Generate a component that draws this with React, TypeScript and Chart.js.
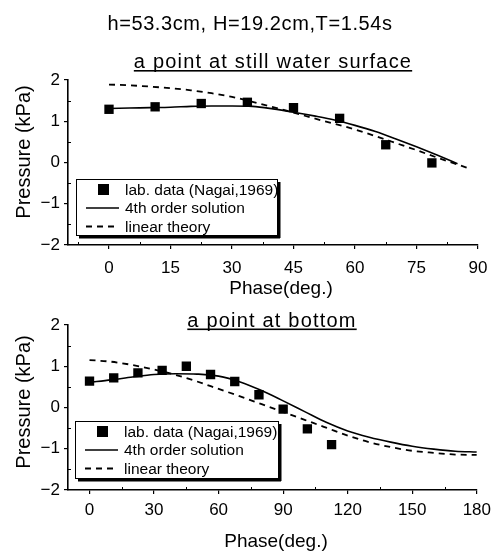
import React, { useEffect, useRef } from "react";
import { Chart, registerables } from "chart.js";

Chart.register(...registerables);

// ---------- texts ----------
const mainTitle = "h=53.3cm, H=19.2cm,T=1.54s";
const surfaceTitle = "a point at still water surface";
const bottomTitle = "a point at bottom";
const yAxisTitle = "Pressure (kPa)";
const xAxisTitle = "Phase(deg.)";
const legendLabels = ["lab. data (Nagai,1969)", "4th order solution", "linear theory"];

// ---------- ticks ----------
const surfaceXTicks = [0, 15, 30, 45, 60, 75, 90];
const surfaceXMinor = [-7.5, 7.5, 22.5, 37.5, 52.5, 67.5, 82.5];
const bottomXTicks = [0, 30, 60, 90, 120, 150, 180];
const bottomXMinor = [15, 45, 75, 105, 135, 165];
const yTicks = [-2, -1, 0, 1, 2];
const yMinor = [-1.5, -0.5, 0.5, 1.5];

// ---------- data: point at still water surface ----------
const surfaceLabPhase = [0, 11.25, 22.5, 33.75, 45, 56.25, 67.5, 78.75];
const surfaceLabPressure = [1.29, 1.35, 1.43, 1.46, 1.33, 1.07, 0.43, -0.01];

const surface4thPhase = [0, 5, 10, 15, 20, 25, 30, 35, 40, 45, 50, 55, 60, 65, 70, 75, 80, 85];
const surface4thPressure = [1.31, 1.32, 1.33, 1.34, 1.36, 1.37, 1.37, 1.36, 1.3, 1.22, 1.13, 1.03, 0.9, 0.75, 0.57, 0.38, 0.18, -0.03];

const surfaceLinearPhase = [0, 5, 10, 15, 20, 25, 30, 35, 40, 45, 50, 55, 60, 65, 70, 75, 80, 85, 88];
const surfaceLinearPressure = [1.89, 1.87, 1.84, 1.8, 1.75, 1.68, 1.59, 1.47, 1.34, 1.21, 1.07, 0.94, 0.8, 0.64, 0.47, 0.3, 0.12, -0.05, -0.15];

// ---------- data: point at bottom ----------
const bottomLabPhase = [0, 11.25, 22.5, 33.75, 45, 56.25, 67.5, 78.75, 90, 101.25, 112.5];
const bottomLabPressure = [0.64, 0.72, 0.84, 0.9, 1.0, 0.8, 0.63, 0.31, -0.04, -0.52, -0.9];

const bottomCurvePhase = [0, 10, 20, 30, 40, 50, 60, 70, 80, 90, 100, 110, 120, 130, 140, 150, 160, 170, 180];
const bottom4thPressure = [0.61, 0.67, 0.74, 0.8, 0.82, 0.81, 0.76, 0.62, 0.41, 0.16, -0.1, -0.36, -0.57, -0.72, -0.84, -0.94, -1.01, -1.06, -1.08];
const bottomLinearPressure = [1.15, 1.11, 1.03, 0.92, 0.79, 0.63, 0.45, 0.27, 0.08, -0.11, -0.3, -0.49, -0.68, -0.84, -0.96, -1.05, -1.1, -1.14, -1.15];

const FONT = "'Liberation Sans', Arial, sans-serif";

const zip = (xs: number[], ys: number[]) => xs.map((x, i) => ({ x, y: ys[i] }));

type TextItem = { text: string; x: number; y: number; size: number; spacing?: number; rotate?: boolean; underline?: boolean };

const decorPlugin = {
  id: "decor",
  afterDraw(chart: any, _args: any, opts: any) {
    const ctx: CanvasRenderingContext2D = chart.ctx;
    const area = chart.chartArea;
    const xs = chart.scales.x;
    const ys = chart.scales.y;
    ctx.save();
    ctx.strokeStyle = "#000";
    ctx.fillStyle = "#000";
    ctx.lineWidth = 1;
    // minor ticks
    (opts.xMinor || []).forEach((v: number) => {
      const px = Math.round(xs.getPixelForValue(v)) + 0.5;
      ctx.beginPath();
      ctx.moveTo(px, area.bottom);
      ctx.lineTo(px, area.bottom - 3);
      ctx.stroke();
    });
    (opts.yMinor || []).forEach((v: number) => {
      const py = Math.round(ys.getPixelForValue(v)) + 0.5;
      ctx.beginPath();
      ctx.moveTo(area.left, py);
      ctx.lineTo(area.left + 3, py);
      ctx.stroke();
    });
    // texts
    (opts.texts || []).forEach((t: TextItem) => {
      ctx.save();
      ctx.font = `${t.size}px ${FONT}`;
      (ctx as any).letterSpacing = `${t.spacing || 0}px`;
      ctx.textAlign = "center";
      ctx.textBaseline = "alphabetic";
      ctx.translate(t.x, t.y);
      if (t.rotate) ctx.rotate(-Math.PI / 2);
      ctx.fillText(t.text, 0, 0);
      if (t.underline) {
        const w = ctx.measureText(t.text).width;
        ctx.fillRect(-w / 2, 2, w, 1.6);
      }
      ctx.restore();
    });
    // legend
    const lg = opts.legend;
    if (lg) {
      const lx = area.left + lg.dx;
      const ly = area.top + lg.dy;
      const w = lg.w;
      const h = lg.h;
      ctx.fillStyle = "#fff";
      ctx.fillRect(lx, ly, w, h);
      ctx.strokeStyle = "#000";
      ctx.lineWidth = 1;
      ctx.strokeRect(lx + 0.5, ly + 0.5, w, h);
      ctx.fillStyle = "#000";
      ctx.fillRect(lx + 3, ly + h, w, 3.5);
      ctx.fillRect(lx + w, ly + 3, 3.5, h);
      const rows = [ly + 10.5, ly + 29, ly + 47.5];
      const datasets = chart.data.datasets;
      ctx.font = `15.5px ${FONT}`;
      ctx.textBaseline = "middle";
      ctx.textAlign = "left";
      datasets.forEach((ds: any, i: number) => {
        const ry = rows[i];
        ctx.fillStyle = "#000";
        ctx.strokeStyle = "#000";
        if (ds.showLine === false) {
          ctx.fillRect(lx + 22, ry - 5.5, 11, 11);
        } else {
          ctx.lineWidth = ds.borderWidth;
          ctx.setLineDash(ds.borderDash || []);
          ctx.beginPath();
          ctx.moveTo(lx + 10, ry);
          ctx.lineTo(lx + 43, ry);
          ctx.stroke();
          ctx.setLineDash([]);
        }
        ctx.fillText(ds.label, lx + 49, ry + 1);
      });
    }
    ctx.restore();
  },
};

type PanelProps = {
  top: number;
  height: number;
  padTop: number;
  xAxisHeight: number;
  xMin: number;
  xMax: number;
  xTicks: number[];
  xMinor: number[];
  xTickPad: number;
  lab: { x: number; y: number }[];
  fourth: { x: number; y: number }[];
  linear: { x: number; y: number }[];
  texts: TextItem[];
  legend: { dx: number; dy: number; w: number; h: number };
};

function Panel(p: PanelProps) {
  const ref = useRef<HTMLCanvasElement | null>(null);
  useEffect(() => {
    if (!ref.current) return;
    Chart.defaults.font.family = FONT;
    Chart.defaults.color = "#000";
    const chart = new Chart(ref.current, {
      type: "scatter",
      data: {
        datasets: [
          {
            label: legendLabels[0],
            data: p.lab,
            showLine: false,
            pointStyle: "rect",
            pointRadius: 6.6,
            backgroundColor: "#000",
            borderColor: "#000",
            borderWidth: 0,
            order: 0,
          },
          {
            label: legendLabels[1],
            data: p.fourth,
            showLine: true,
            pointRadius: 0,
            borderColor: "#000",
            borderWidth: 1.6,
            cubicInterpolationMode: "monotone",
            order: 1,
          },
          {
            label: legendLabels[2],
            data: p.linear,
            showLine: true,
            pointRadius: 0,
            borderColor: "#000",
            borderWidth: 1.8,
            borderDash: [6, 5],
            cubicInterpolationMode: "monotone",
            order: 2,
          },
        ],
      },
      options: {
        animation: false,
        responsive: false,
        events: [],
        layout: { padding: { top: p.padTop, right: 19, left: 0, bottom: 0 } },
        plugins: {
          legend: { display: false },
          tooltip: { enabled: false },
          decor: { xMinor: p.xMinor, yMinor, texts: p.texts, legend: p.legend },
        } as any,
        scales: {
          x: {
            type: "linear",
            min: p.xMin,
            max: p.xMax,
            afterFit: (s: any) => {
              s.height = p.xAxisHeight;
            },
            afterBuildTicks: (s: any) => {
              s.ticks = p.xTicks.map((v) => ({ value: v }));
            },
            ticks: { font: { size: 17 }, color: "#000", padding: p.xTickPad, maxRotation: 0 },
            grid: { display: true, drawOnChartArea: false, drawTicks: true, tickLength: 4, color: "#000", lineWidth: 1.2 },
            border: { display: true, color: "#000", width: 1.6 },
          },
          y: {
            type: "linear",
            min: -2,
            max: 2,
            afterFit: (s: any) => {
              s.width = 68;
            },
            afterBuildTicks: (s: any) => {
              s.ticks = yTicks.map((v) => ({ value: v }));
            },
            ticks: {
              font: { size: 17 },
              color: "#000",
              padding: 4,
              callback: (v: any) => String(v).replace("-", "\u2212"),
            },
            grid: { display: true, drawOnChartArea: false, drawTicks: true, tickLength: 4, color: "#000", lineWidth: 1.2 },
            border: { display: true, color: "#000", width: 1.6 },
          },
        },
      },
      plugins: [decorPlugin],
    } as any);
    return () => chart.destroy();
  }, []);
  return (
    <canvas
      ref={ref}
      width={497}
      height={p.height}
      style={{ position: "absolute", left: 0, top: p.top, width: 497, height: p.height }}
    />
  );
}

export default function App() {
  return (
    <div style={{ position: "absolute", left: 0, top: 0, width: 497, height: 551, background: "#fff" }}>
      <Panel
        top={0}
        height={300}
        padTop={80}
        xAxisHeight={55}
        xMin={-10}
        xMax={90}
        xTicks={surfaceXTicks}
        xMinor={surfaceXMinor}
        xTickPad={9}
        lab={zip(surfaceLabPhase, surfaceLabPressure)}
        fourth={zip(surface4thPhase, surface4thPressure)}
        linear={zip(surfaceLinearPhase, surfaceLinearPressure)}
        texts={[
          { text: mainTitle, x: 250, y: 30, size: 20, spacing: 0.6 },
          { text: surfaceTitle, x: 273, y: 68, size: 20, spacing: 1.2, underline: true },
          { text: yAxisTitle, x: 30, y: 152, size: 20, rotate: true },
          { text: xAxisTitle, x: 281, y: 294, size: 19 },
        ]}
        legend={{ dx: 8, dy: 99, w: 201, h: 56 }}
      />
      <Panel
        top={300}
        height={251}
        padTop={25}
        xAxisHeight={61}
        xMin={-10}
        xMax={180}
        xTicks={bottomXTicks}
        xMinor={bottomXMinor}
        xTickPad={6}
        lab={zip(bottomLabPhase, bottomLabPressure)}
        fourth={zip(bottomCurvePhase, bottom4thPressure)}
        linear={zip(bottomCurvePhase, bottomLinearPressure)}
        texts={[
          { text: bottomTitle, x: 272, y: 26.5, size: 20, spacing: 1.2, underline: true },
          { text: yAxisTitle, x: 30, y: 102, size: 20, rotate: true },
          { text: xAxisTitle, x: 276, y: 247, size: 19 },
        ]}
        legend={{ dx: 7, dy: 96, w: 203, h: 57 }}
      />
    </div>
  );
}
